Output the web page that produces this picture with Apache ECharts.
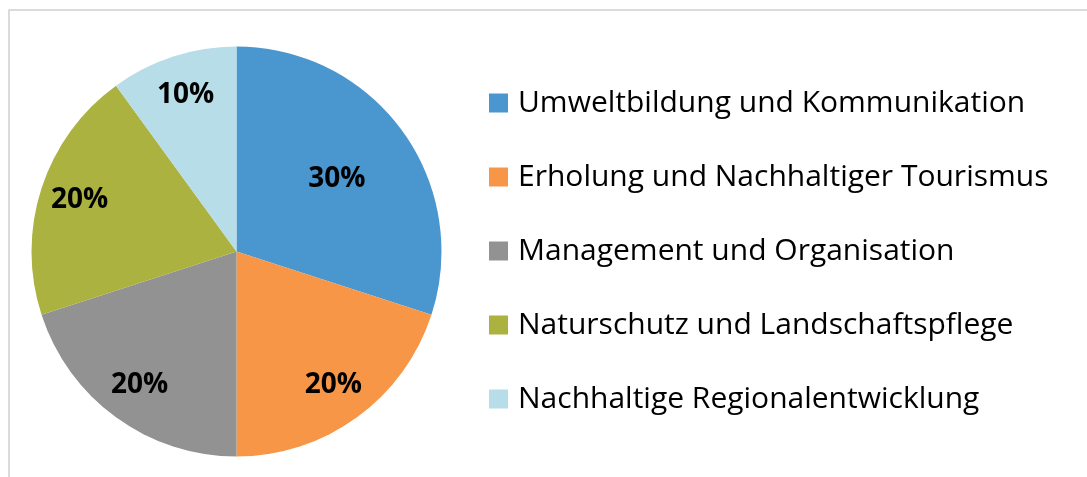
<!DOCTYPE html>
<html>
<head>
<meta charset="utf-8">
<script src="https://cdn.jsdelivr.net/npm/echarts@6/dist/echarts.min.js"></script>
<style>
  html, body { margin: 0; padding: 0; background: #fff; }
  #chart { width: 1087px; height: 477px; }
</style>
</head>
<body>
<div id="chart"></div>
<script>
const categories = [
  "Umweltbildung und Kommunikation",
  "Erholung und Nachhaltiger Tourismus",
  "Management und Organisation",
  "Naturschutz und Landschaftspflege",
  "Nachhaltige Regionalentwicklung",
];
const shares = [30, 20, 20, 20, 10];
const colors = ["#4a96cf", "#f79646", "#929292", "#abb23f", "#b7dde8"];

const font = "'Open Sans', sans-serif";
const R = 205;
const center = [236.5, 251.5];

const pieData = categories.map((name, i) => ({
  name,
  value: shares[i],
  itemStyle: { color: colors[i] },
}));

// transparent copies only carry the percentage labels at Excel's label radius
const labelData = (show) =>
  categories.map((name, i) => ({
    name,
    value: shares[i],
    itemStyle: { color: "rgba(0,0,0,0)" },
    label: { show: show(i) },
  }));

const labelStyle = {
  position: "inside",
  formatter: "{c}%",
  color: "#000",
  fontFamily: font,
  fontWeight: "bold",
  fontSize: 28,
};

const chart = echarts.init(document.getElementById("chart"));
chart.setOption({
  animation: false,
  color: colors,
  graphic: [
    {
      type: "rect",
      shape: { x: 9, y: 10, width: 1200, height: 600 },
      style: { fill: "none", stroke: "#d0d0d0", lineWidth: 1.5 },
      silent: true,
    },
  ],
  legend: {
    orient: "vertical",
    left: 489,
    top: 88,
    padding: 0,
    itemWidth: 19,
    itemHeight: 19,
    itemGap: 44,
    icon: "rect",
    data: categories,
    textStyle: {
      fontFamily: font,
      fontSize: 30,
      color: "#000",
      padding: [0, 0, 0, 5],
    },
  },
  series: [
    {
      type: "pie",
      center,
      radius: [0, R],
      startAngle: 90,
      silent: true,
      label: { show: false },
      labelLine: { show: false },
      data: pieData,
    },
    {
      type: "pie",
      center,
      radius: [0, R * 1.18],
      startAngle: 90,
      silent: true,
      label: labelStyle,
      labelLine: { show: false },
      data: labelData((i) => i === 0),
    },
    {
      type: "pie",
      center,
      radius: [0, R * 1.58],
      startAngle: 90,
      silent: true,
      label: labelStyle,
      labelLine: { show: false },
      data: labelData((i) => i !== 0),
    },
  ],
});
</script>
</body>
</html>
